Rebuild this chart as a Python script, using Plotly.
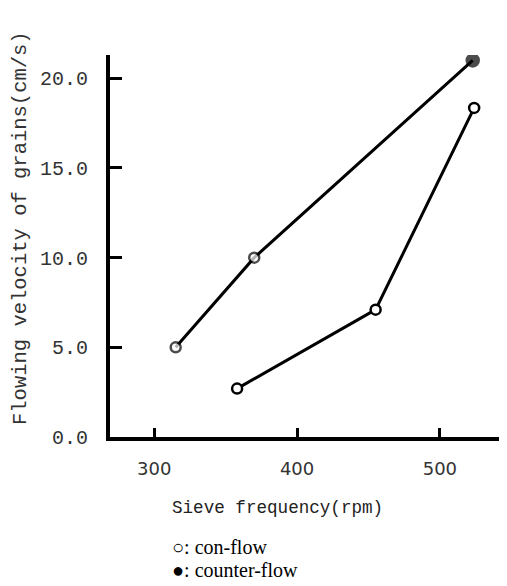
import plotly.graph_objects as go

# Data
sieve_con = [358, 455, 524]          # con-flow, sieve frequency (rpm)
velocity_con = [2.7, 7.1, 18.35]     # con-flow, flowing velocity (cm/s)

sieve_counter = [315, 370, 523]      # counter-flow, sieve frequency (rpm)
velocity_counter = [5.0, 10.0, 21.0] # counter-flow, flowing velocity (cm/s)

x_ticks = [300, 400, 500]
y_ticks = [0, 5, 10, 15, 20]

x_title = "Sieve frequency(rpm)"
y_title = "Flowing velocity of grains(cm/s)"
legend_items = ["○: con-flow", "●: counter-flow"]

# The page body adds an 8px offset; size the figure to fit the window.
OFF = 8
W, H = 507 - OFF, 586 - OFF
L, T = 110 - OFF, 55 - OFF
R = W - (502 - OFF)
B = H - (437 - OFF)
pw, ph = W - L - R, H - T - B

fig = go.Figure()

fig.add_trace(go.Scatter(
    x=sieve_counter, y=velocity_counter, mode="lines+markers",
    name="counter-flow",
    line=dict(color="black", width=3),
    marker=dict(symbol="circle", size=[10, 10, 12],
                color=["white", "white", "black"],
                line=dict(color="black", width=2.5)),
    showlegend=False,
))
fig.add_trace(go.Scatter(
    x=sieve_con, y=velocity_con, mode="lines+markers",
    name="con-flow",
    line=dict(color="black", width=3),
    marker=dict(symbol="circle", size=10, color="white",
                line=dict(color="black", width=2.5)),
    showlegend=False,
))

fig.update_xaxes(
    range=[269, 543.5], tickvals=x_ticks, ticktext=[str(v) for v in x_ticks],
    showline=True, linecolor="black", linewidth=4,
    ticks="inside", ticklen=9, tickwidth=2.5, tickcolor="black",
    showgrid=False, zeroline=False,
    tickfont=dict(family="DejaVu Sans", size=18, color="#333"),
    ticklabelstandoff=12,
)
fig.update_yaxes(
    range=[0, 21.3], tickvals=y_ticks, tickformat=".1f",
    showline=True, linecolor="black", linewidth=4,
    ticks="inside", ticklen=12, tickwidth=2.5, tickcolor="black",
    showgrid=False, zeroline=False,
    tickfont=dict(family="Liberation Mono", size=20, color="#333"),
    ticklabelstandoff=14,
)

# pixel positions in the reference picture
annotations = [
    dict(text=x_title, x=277, y=508,
         font=dict(family="Liberation Mono", size=17.6, color="#222")),
    dict(text=y_title, x=20, y=228, textangle=-90,
         font=dict(family="Liberation Mono", size=20.5, color="#333")),
    dict(text=legend_items[0], x=170, y=547, xanchor="left",
         font=dict(family="Liberation Serif", size=20, color="black")),
    dict(text=legend_items[1], x=170, y=570, xanchor="left",
         font=dict(family="Liberation Serif", size=20, color="black")),
]
for a in annotations:
    px, py = a["x"] - OFF, a["y"] - OFF
    a["x"] = (px - L) / pw
    a["y"] = (H - B - py) / ph
    a["xref"] = "paper"
    a["yref"] = "paper"
    a["showarrow"] = False
    a.setdefault("xanchor", "center")
    a["yanchor"] = "middle"

fig.update_layout(
    width=W, height=H,
    margin=dict(l=L, r=R, t=T, b=B, autoexpand=False),
    plot_bgcolor="white", paper_bgcolor="white",
    annotations=annotations,
)

fig.write_html("out.html")
